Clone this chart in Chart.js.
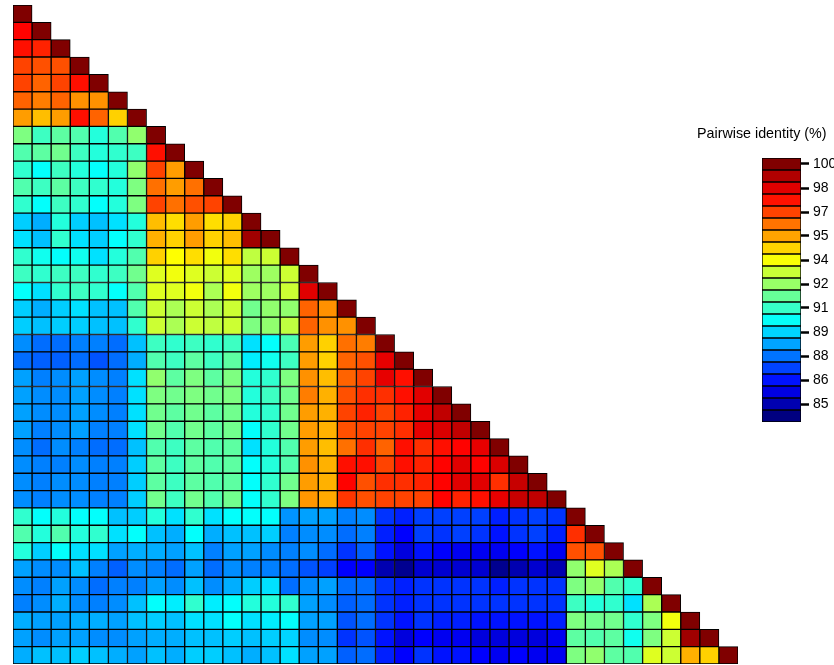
<!DOCTYPE html>
<html>
<head>
<meta charset="utf-8">
<script src="https://cdn.jsdelivr.net/npm/chart.js@4/dist/chart.umd.min.js"></script>
<style>
  body { margin: 0; background: #fff; }
  #wrap { position: relative; width: 834px; height: 665px; overflow: hidden; }
  #heat { position: absolute; left: 0; top: 0; }
  #scale { position: absolute; left: 740px; top: 150px; }
  #scaleTitle { position: absolute; left: 697px; top: 125px; font: 14.3px "Liberation Sans", Arial, sans-serif; color: #000; white-space: nowrap; }
</style>
</head>
<body>
<div id="wrap">
  <canvas id="heat" width="834" height="665"></canvas>
  <div id="scaleTitle">Pairwise identity (%)</div>
  <canvas id="scale" width="94" height="280"></canvas>
</div>
<script>
// pairwise identity, lower triangle, row i has i+1 values (last one is the diagonal)
const rows = [
    [100],
    [98.0, 100],
    [97.8, 97.5, 100],
    [97.0, 96.8, 96.8, 100],
    [97.0, 96.5, 97.0, 97.8, 100],
    [96.5, 96.1, 96.5, 95.8, 95.8, 100],
    [95.6, 95.1, 95.6, 97.8, 96.5, 94.8, 100],
    [92.1, 91.1, 91.6, 91.4, 90.7, 91.4, 92.4, 100],
    [91.4, 91.6, 91.9, 91.1, 90.7, 90.9, 91.1, 97.8, 100],
    [90.9, 90.2, 91.1, 90.7, 90.2, 90.7, 92.4, 97.0, 95.6, 100],
    [91.4, 91.1, 91.6, 91.1, 90.9, 90.7, 92.1, 96.3, 95.6, 96.3, 100],
    [90.9, 90.2, 91.1, 90.9, 90.2, 90.7, 92.1, 97.0, 96.3, 96.8, 97.0, 100],
    [89.4, 88.9, 90.7, 89.4, 89.2, 89.7, 90.7, 95.1, 94.6, 95.6, 94.6, 94.8, 100],
    [89.7, 89.2, 90.9, 89.7, 89.4, 90.2, 90.9, 95.3, 94.8, 95.6, 94.8, 95.1, 99.5, 100],
    [90.9, 90.4, 90.2, 90.4, 89.7, 90.7, 91.4, 94.8, 94.1, 94.6, 93.9, 94.6, 93.1, 93.3, 100],
    [91.1, 90.9, 91.1, 91.1, 90.9, 91.1, 91.9, 93.6, 93.9, 93.6, 93.3, 93.6, 92.6, 92.6, 93.3, 100],
    [90.2, 89.7, 90.9, 91.1, 90.9, 90.2, 91.4, 93.6, 93.6, 93.9, 92.8, 93.9, 92.6, 92.6, 93.3, 98.5, 100],
    [89.4, 88.9, 89.4, 89.7, 89.2, 89.2, 91.4, 93.3, 92.8, 93.3, 92.8, 93.3, 91.9, 92.4, 92.4, 96.5, 95.8, 100],
    [89.4, 89.2, 89.4, 89.4, 89.2, 89.2, 90.9, 93.3, 92.8, 93.3, 93.1, 93.3, 92.1, 92.4, 93.1, 96.5, 95.8, 95.8, 100],
    [88.4, 87.9, 87.9, 88.2, 88.2, 87.9, 89.2, 91.1, 90.9, 91.1, 90.9, 91.1, 89.7, 90.2, 91.3, 95.6, 94.8, 96.3, 96.1, 100],
    [87.9, 87.7, 87.7, 87.9, 87.5, 87.9, 88.9, 91.4, 91.1, 91.6, 91.1, 91.6, 89.9, 90.4, 91.1, 95.6, 94.8, 96.5, 96.8, 98.4, 100],
    [88.7, 88.2, 88.4, 88.7, 88.4, 88.2, 89.7, 92.4, 91.6, 92.1, 91.6, 92.1, 90.7, 90.9, 92.1, 95.8, 95.1, 96.5, 97.0, 98.4, 97.8, 100],
    [88.7, 88.4, 88.4, 88.7, 88.4, 88.2, 89.7, 92.1, 91.9, 92.1, 91.9, 92.1, 90.7, 91.1, 91.9, 96.1, 95.3, 96.8, 97.3, 97.3, 97.8, 98.5, 100],
    [88.7, 88.4, 88.4, 88.7, 88.4, 88.2, 89.7, 91.9, 91.6, 91.9, 91.6, 91.9, 90.7, 90.9, 91.9, 95.6, 95.3, 97.0, 97.5, 97.0, 97.5, 98.4, 99.0, 100],
    [88.7, 88.2, 88.4, 88.7, 88.2, 88.2, 89.7, 91.9, 91.4, 91.9, 91.6, 91.9, 90.2, 90.9, 91.9, 95.6, 95.3, 96.8, 97.0, 97.0, 97.3, 98.4, 98.6, 99.0, 100],
    [88.4, 87.9, 88.4, 88.2, 87.9, 87.9, 89.2, 91.4, 91.1, 91.6, 91.4, 91.6, 89.7, 90.7, 91.4, 95.6, 95.1, 96.3, 97.3, 96.5, 97.8, 97.3, 97.8, 98.0, 98.4, 100],
    [88.4, 88.2, 88.2, 88.4, 88.2, 88.2, 89.4, 91.6, 91.1, 91.6, 91.4, 91.6, 90.2, 90.7, 91.4, 95.8, 95.3, 97.8, 97.8, 97.0, 97.8, 97.5, 98.0, 98.5, 98.0, 98.6, 100],
    [88.4, 88.2, 88.4, 88.4, 88.2, 88.2, 89.4, 91.6, 91.1, 91.6, 91.4, 91.6, 90.2, 90.9, 91.9, 95.6, 95.3, 98.0, 96.8, 97.3, 97.3, 97.5, 98.0, 98.5, 98.5, 97.3, 98.9, 100],
    [88.4, 88.2, 88.4, 88.4, 88.2, 88.2, 89.4, 91.9, 91.1, 91.9, 91.4, 91.9, 90.2, 90.9, 92.1, 95.7, 95.4, 97.2, 96.8, 97.0, 97.0, 97.0, 98.0, 97.5, 97.8, 98.4, 98.9, 99.0, 100],
    [90.9, 90.2, 90.7, 90.2, 90.2, 89.2, 89.4, 90.7, 89.7, 90.9, 89.7, 90.2, 90.2, 90.2, 88.5, 88.7, 88.7, 88.2, 88.4, 87.0, 86.7, 87.2, 87.2, 87.2, 87.2, 86.7, 87.0, 87.2, 87.0, 100],
    [91.4, 90.7, 91.4, 90.7, 90.9, 89.7, 90.2, 89.2, 88.9, 90.2, 88.9, 89.2, 89.2, 89.4, 88.2, 88.4, 88.4, 87.9, 88.2, 86.7, 86.2, 87.2, 87.0, 87.2, 87.0, 86.5, 87.0, 87.2, 86.7, 97.3, 100],
    [90.7, 89.4, 90.2, 89.7, 89.7, 88.7, 88.9, 88.9, 88.7, 89.2, 88.2, 88.7, 88.7, 88.4, 88.2, 88.4, 87.9, 87.0, 87.7, 86.5, 85.7, 86.5, 86.2, 86.0, 86.0, 86.0, 86.2, 86.5, 86.0, 96.8, 96.8, 100],
    [88.7, 88.4, 88.4, 89.2, 88.2, 87.7, 88.4, 88.2, 87.9, 88.7, 87.9, 88.4, 88.2, 88.2, 87.9, 87.5, 87.2, 86.2, 86.2, 85.0, 84.5, 85.5, 85.5, 85.5, 85.5, 84.5, 85.0, 85.5, 85.0, 92.4, 93.6, 92.8, 100],
    [88.4, 88.2, 88.7, 88.4, 87.9, 88.2, 88.2, 88.7, 88.4, 89.2, 88.4, 88.9, 89.4, 89.7, 87.9, 88.4, 88.7, 87.9, 87.9, 87.0, 86.7, 87.0, 87.0, 87.0, 87.0, 86.7, 87.0, 87.0, 87.0, 92.1, 92.4, 91.4, 90.9, 100],
    [88.2, 88.4, 88.9, 88.4, 88.2, 88.4, 89.2, 90.2, 89.9, 90.9, 89.9, 90.2, 90.7, 90.7, 90.9, 88.7, 88.4, 87.7, 87.9, 87.0, 86.7, 87.0, 87.0, 87.0, 87.0, 87.0, 87.0, 87.0, 87.0, 91.1, 90.7, 90.9, 89.7, 92.8, 100],
    [88.9, 88.7, 88.7, 88.9, 88.9, 88.7, 89.2, 89.4, 89.2, 89.7, 89.7, 90.2, 89.7, 89.9, 90.2, 88.7, 88.7, 87.5, 87.9, 87.0, 86.5, 87.0, 86.7, 86.7, 86.5, 86.5, 86.5, 86.5, 86.7, 92.1, 91.9, 91.9, 90.9, 92.1, 93.9, 100],
    [88.7, 88.4, 88.7, 88.7, 88.4, 88.4, 88.7, 88.9, 88.9, 89.2, 89.2, 89.4, 89.2, 89.4, 89.5, 88.4, 88.4, 87.0, 87.5, 86.5, 85.7, 86.2, 86.0, 86.0, 85.7, 85.7, 85.7, 85.7, 86.0, 91.6, 91.4, 91.6, 90.4, 92.1, 93.3, 99.5, 100],
    [88.9, 89.2, 89.2, 89.4, 89.2, 88.9, 88.7, 89.2, 88.9, 89.4, 89.4, 89.2, 88.9, 89.2, 89.7, 88.7, 88.7, 87.7, 87.9, 86.7, 86.2, 87.0, 86.5, 86.5, 86.2, 86.0, 86.2, 86.0, 86.0, 92.1, 92.4, 91.6, 91.4, 93.6, 93.3, 95.3, 94.8, 100]
];

const seqLabels = rows.map((r, i) => 'S' + (i + 1));

// colour bar: one box per 0.75 %, ticks every second box
const vMin = 84.25;
const vMax = 100;
const legendLevels = [100, 99.25, 98.5, 97.75, 97, 96.25, 95.5, 94.75, 94, 93.25, 92.5,
    91.75, 91, 90.25, 89.5, 88.75, 88, 87.25, 86.5, 85.75, 85, 84.25];
const legendTickValues = [100, 98.5, 97, 95.5, 94, 92.5, 91, 89.5, 88, 86.5, 85];
const legendTickLabels = ['100', '98', '97', '95', '94', '92', '91', '89', '88', '86', '85'];

function clamp01(x) { return Math.max(0, Math.min(1, x)); }

// jet colormap
function jet(v) {
    const t = clamp01((v - vMin) / (vMax - vMin));
    const r = clamp01(Math.min(4 * t - 1.5, -4 * t + 4.5));
    const g = clamp01(Math.min(4 * t - 0.5, -4 * t + 3.5));
    const b = clamp01(Math.min(4 * t + 0.5, -4 * t + 2.5));
    return 'rgb(' + [r, g, b].map(c => Math.round(c * 255)).join(',') + ')';
}

const cells = [];
rows.forEach((row, i) => {
    row.forEach((v, j) => {
        cells.push({ x: seqLabels[j], y: [i, i + 1], v: v });
    });
});

new Chart(document.getElementById('heat'), {
    type: 'bar',
    data: {
        labels: seqLabels,
        datasets: [{
            data: cells,
            backgroundColor: ctx => jet(ctx.raw.v),
            borderColor: '#000',
            borderWidth: 1,
            borderSkipped: false,
            categoryPercentage: 1,
            barPercentage: 1
        }]
    },
    options: {
        responsive: false,
        devicePixelRatio: 1,
        animation: false,
        layout: { padding: { left: 13, top: 5, right: 96, bottom: 1 } },
        plugins: { legend: { display: false }, tooltip: { enabled: false } },
        scales: {
            x: { type: 'category', display: false },
            y: { type: 'linear', min: 0, max: rows.length, reverse: true, display: false }
        }
    }
});

new Chart(document.getElementById('scale'), {
    type: 'bar',
    data: {
        labels: ['bar'],
        datasets: [{
            data: legendLevels.map(v => ({ x: 'bar', y: [v - 0.375, v + 0.375], v: v })),
            backgroundColor: ctx => jet(ctx.raw.v),
            borderColor: '#000',
            borderWidth: 1,
            borderSkipped: false,
            categoryPercentage: 1,
            barPercentage: 1
        }]
    },
    options: {
        responsive: false,
        devicePixelRatio: 1,
        animation: false,
        layout: { padding: { left: 22, top: 8, right: 0, bottom: 8 } },
        plugins: { legend: { display: false }, tooltip: { enabled: false } },
        scales: {
            x: { type: 'category', display: false },
            y: {
                type: 'linear',
                position: 'right',
                min: vMin - 0.375,
                max: vMax + 0.375,
                afterBuildTicks: scale => { scale.ticks = legendTickValues.map(v => ({ value: v })); },
                afterFit: scale => {
                    scale.width = 33;
                    scale.paddingTop = 0;
                    scale.paddingBottom = 0;
                },
                border: { display: false },
                grid: { drawOnChartArea: false, drawTicks: true, tickLength: 8, tickWidth: 2.5, tickColor: '#000' },
                ticks: {
                    autoSkip: false,
                    padding: 4,
                    color: '#000',
                    font: { family: '"Liberation Sans", Arial, sans-serif', size: 14 },
                    callback: (val, i) => legendTickLabels[i]
                }
            }
        }
    }
});
</script>
</body>
</html>
